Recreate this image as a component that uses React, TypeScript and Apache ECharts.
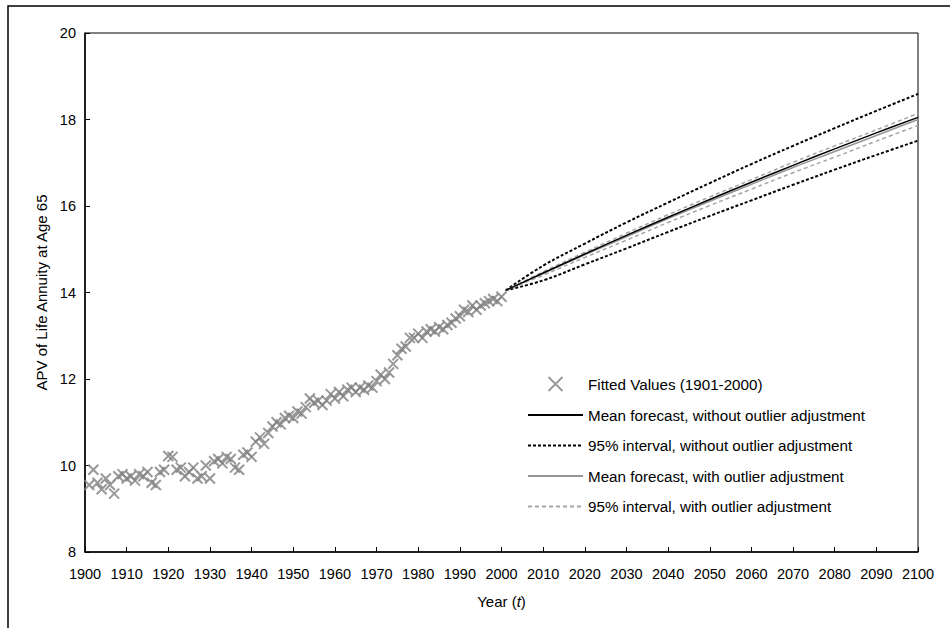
import React, { useEffect, useRef } from "react";
import * as echarts from "echarts";

// Fitted APV values, one per year starting at 1901
const FIRST_FITTED_YEAR = 1901;
const fittedValues = [
  9.55, 9.9, 9.6, 9.45, 9.7, 9.55, 9.35, 9.75, 9.8, 9.7,
  9.75, 9.65, 9.8, 9.75, 9.85, 9.6, 9.55, 9.85, 9.9, 10.22,
  10.2, 9.9, 9.95, 9.75, 9.85, 9.95, 9.7, 9.75, 10.0, 9.7,
  10.1, 10.15, 10.05, 10.2, 10.15, 9.95, 9.9, 10.25, 10.3, 10.2,
  10.55, 10.65, 10.5, 10.75, 10.9, 11.0, 10.95, 11.1, 11.15, 11.1,
  11.25, 11.2, 11.35, 11.55, 11.45, 11.5, 11.4, 11.5, 11.65, 11.55,
  11.7, 11.6, 11.75, 11.8, 11.7, 11.8, 11.75, 11.85, 11.8, 11.95,
  12.1, 12.0, 12.15, 12.35, 12.55, 12.7, 12.75, 12.95, 12.95, 13.05,
  12.95, 13.1, 13.15, 13.1, 13.2, 13.15, 13.25, 13.3, 13.4, 13.45,
  13.6, 13.55, 13.7, 13.6, 13.7, 13.75, 13.8, 13.85, 13.8, 13.9,
];

// Forecast horizon
const forecastYears = [2001, 2010, 2020, 2030, 2040, 2050, 2060, 2070, 2080, 2090, 2100];

// Without outlier adjustment
const meanNoAdj = [14.05, 14.45, 14.89, 15.32, 15.74, 16.15, 16.55, 16.94, 17.32, 17.69, 18.05];
const upperNoAdj = [14.05, 14.62, 15.13, 15.62, 16.08, 16.53, 16.97, 17.39, 17.8, 18.2, 18.59];
const lowerNoAdj = [14.05, 14.28, 14.65, 15.02, 15.4, 15.77, 16.13, 16.49, 16.84, 17.18, 17.51];

// With outlier adjustment
const meanAdj = [14.05, 14.44, 14.87, 15.29, 15.71, 16.11, 16.5, 16.89, 17.26, 17.63, 18.0];
const upperAdj = [14.05, 14.48, 14.93, 15.37, 15.8, 16.21, 16.61, 17.01, 17.39, 17.76, 18.14];
const lowerAdj = [14.05, 14.4, 14.81, 15.21, 15.62, 16.01, 16.39, 16.77, 17.13, 17.5, 17.86];

const seriesNames = [
  "Fitted Values (1901-2000)",
  "Mean forecast, without outlier adjustment",
  "95% interval, without outlier adjustment",
  "Mean forecast, with outlier adjustment",
  "95% interval, with outlier adjustment",
];

const FONT = "'Liberation Sans', Arial, sans-serif";
const CROSS = "path://M0,0L10,10M10,0L0,10";

const pairs = (xs: number[], ys: number[]) => ys.map((v, i) => [xs[i], v]);

export default function App() {
  const ref = useRef<HTMLDivElement>(null);

  useEffect(() => {
    if (!ref.current) return;
    const chart = echarts.init(ref.current, undefined, { renderer: "svg" });

    const fitted = fittedValues.map((v, i) => [FIRST_FITTED_YEAR + i, v]);

    const blackDash = { color: "#000", width: 2, type: [3, 2] as number[] };
    const grayDash = { color: "#a6a6a6", width: 1.5, type: [4, 3] as number[] };

    const lineBase = {
      type: "line" as const,
      symbol: "none",
      smooth: 0.4,
      silent: true,
      z: 3,
    };

    // line-only legend entries: hide the marker dot drawn on the sample line
    const hiddenDot = { opacity: 0 };

    chart.setOption({
      animation: false,
      backgroundColor: "#fff",
      textStyle: { fontFamily: FONT },
      grid: {
        left: 85,
        right: 32,
        top: 33,
        bottom: 76,
        show: true,
        borderColor: "#000",
        borderWidth: 1,
        backgroundColor: "transparent",
      },
      xAxis: {
        type: "value",
        min: 1900,
        max: 2100,
        interval: 10,
        name: "{n|Year (}{i|t}{n|)}",
        nameLocation: "middle",
        nameGap: 42,
        nameTextStyle: {
          rich: {
            n: { fontSize: 15, color: "#000", fontFamily: FONT },
            i: { fontSize: 15, color: "#000", fontFamily: FONT, fontStyle: "italic" },
          },
        },
        axisLine: { lineStyle: { color: "#000", width: 1.5 } },
        axisTick: { inside: true, length: 5, lineStyle: { color: "#000" } },
        axisLabel: {
          color: "#000",
          fontSize: 14.5,
          margin: 14,
          fontFamily: FONT,
          formatter: (v: number) => String(v),
        },
        splitLine: { show: false },
      },
      yAxis: {
        type: "value",
        min: 8,
        max: 20,
        interval: 2,
        name: "APV of Life Annuity at Age 65",
        nameLocation: "middle",
        nameGap: 34,
        nameTextStyle: { color: "#000", fontSize: 15, fontFamily: FONT },
        axisLine: { show: true, lineStyle: { color: "#000", width: 1.5 } },
        axisTick: { show: true, inside: true, length: 5, lineStyle: { color: "#000" } },
        axisLabel: { color: "#000", fontSize: 14.5, margin: 9, fontFamily: FONT },
        splitLine: { show: false },
      },
      legend: {
        orient: "vertical",
        left: 522,
        top: 371,
        itemWidth: 55,
        itemHeight: 14,
        itemGap: 15.5,
        selectedMode: false,
        textStyle: { color: "#000", fontSize: 15.2, lineHeight: 14, fontFamily: FONT },
        data: [
          {
            name: seriesNames[0],
            icon: CROSS,
            itemStyle: { color: "rgba(0,0,0,0)", borderColor: "#808080", borderWidth: 2 },
          },
          { name: seriesNames[1], itemStyle: hiddenDot },
          { name: seriesNames[2], itemStyle: hiddenDot },
          { name: seriesNames[3], itemStyle: hiddenDot },
          { name: seriesNames[4], itemStyle: hiddenDot },
        ],
      },
      graphic: [
        {
          type: "rect",
          shape: { x: 8, y: 6, width: 1200, height: 1200 },
          style: { fill: "none", stroke: "#000", lineWidth: 1.5 },
          silent: true,
        },
      ],
      series: [
        {
          name: seriesNames[0],
          type: "scatter",
          data: fitted,
          symbol: CROSS,
          symbolSize: 10,
          symbolKeepAspect: true,
          itemStyle: { color: "rgba(0,0,0,0)", borderColor: "#808080", borderWidth: 2 },
          silent: true,
          z: 2,
        },
        {
          ...lineBase,
          name: seriesNames[1],
          data: pairs(forecastYears, meanNoAdj),
          lineStyle: { color: "#000", width: 1.5 },
          itemStyle: { color: "#000" },
          z: 4,
        },
        {
          ...lineBase,
          name: seriesNames[2],
          data: pairs(forecastYears, upperNoAdj),
          lineStyle: blackDash,
          itemStyle: { color: "#000" },
        },
        {
          ...lineBase,
          name: seriesNames[2],
          data: pairs(forecastYears, lowerNoAdj),
          lineStyle: blackDash,
          itemStyle: { color: "#000" },
        },
        {
          ...lineBase,
          name: seriesNames[3],
          data: pairs(forecastYears, meanAdj),
          lineStyle: { color: "#959595", width: 1.5 },
          itemStyle: { color: "#959595" },
        },
        {
          ...lineBase,
          name: seriesNames[4],
          data: pairs(forecastYears, upperAdj),
          lineStyle: grayDash,
          itemStyle: { color: "#a6a6a6" },
        },
        {
          ...lineBase,
          name: seriesNames[4],
          data: pairs(forecastYears, lowerAdj),
          lineStyle: grayDash,
          itemStyle: { color: "#a6a6a6" },
        },
      ],
    });

    return () => chart.dispose();
  }, []);

  return (
    <div
      ref={ref}
      style={{ position: "absolute", left: 0, top: 0, width: 950, height: 628 }}
    />
  );
}
